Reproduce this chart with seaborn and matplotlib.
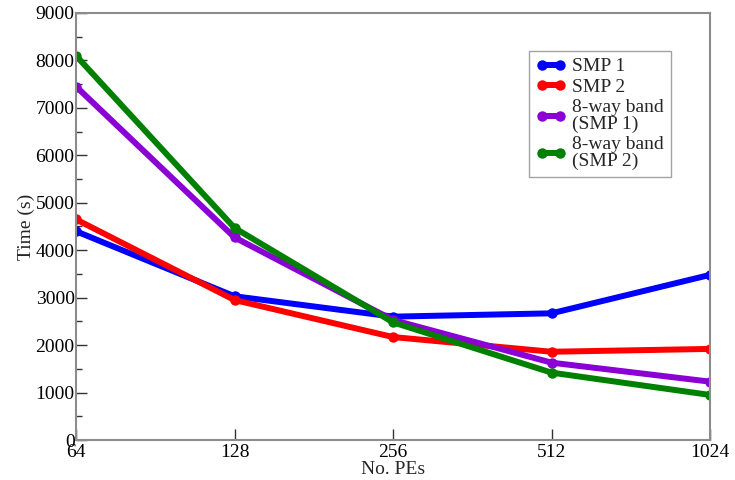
import pandas as pd
import seaborn as sns
import matplotlib.pyplot as plt
from matplotlib.ticker import FixedLocator, MultipleLocator

# values
pes = [64, 128, 256, 512, 1024]
smp1 = [4400, 3030, 2600, 2670, 3480]
smp2 = [4650, 2950, 2170, 1860, 1920]
band_smp1 = [7450, 4270, 2530, 1630, 1230]
band_smp2 = [8100, 4470, 2480, 1420, 950]

series = ["SMP 1", "SMP 2", "8-way band\n(SMP 1)", "8-way band\n(SMP 2)"]
colors = ["#0000ff", "#ff0000", "#8b00d4", "#008000"]

df = pd.DataFrame({
    "PEs": pes * 4,
    "Time": smp1 + smp2 + band_smp1 + band_smp2,
    "Series": [s for s in series for _ in pes],
})

sns.set_style("ticks")
plt.rcParams["font.family"] = ["Liberation Serif", "DejaVu Serif"]

fig = plt.figure(figsize=(7.35, 4.8), dpi=100)
ax = fig.add_axes([0.1034, 0.0833, 0.8626, 0.8897])

sns.lineplot(data=df, x="PEs", y="Time", hue="Series", hue_order=series,
             palette=colors, marker="o", markersize=7.5, markeredgewidth=0,
             linewidth=4.3, ax=ax)

ax.set_xscale("log", base=2)
ax.set_xlim(64, 1024)
ax.xaxis.set_major_locator(FixedLocator(pes))
ax.set_xticklabels([str(p) for p in pes])
ax.xaxis.set_minor_locator(FixedLocator([]))
ax.set_ylim(0, 9000)
ax.yaxis.set_major_locator(MultipleLocator(1000))
ax.yaxis.set_minor_locator(MultipleLocator(500))

ax.tick_params(which="both", direction="in", colors="#333333", labelcolor="black",
               labelsize=14, top=False, right=False)
ax.tick_params(which="major", length=8, width=1)
ax.tick_params(which="minor", length=4, width=1)
ax.tick_params(axis="x", pad=3)
ax.tick_params(axis="y", pad=1)
for sp in ax.spines.values():
    sp.set_color("#8c8c8c")
    sp.set_linewidth(1.5)

ax.set_xlabel("No. PEs", fontsize=14, labelpad=0)
ax.set_ylabel("Time (s)", fontsize=14, labelpad=0)

leg = ax.legend(loc="upper right", bbox_to_anchor=(0.938, 0.911), numpoints=2,
                fontsize=14, frameon=True, fancybox=False, handlelength=1.5,
                handletextpad=0.35, borderpad=0.35, labelspacing=0.15,
                borderaxespad=0)
for t in leg.get_texts():
    t.set_linespacing(1.0)
leg.get_frame().set_edgecolor("#8c8c8c")
leg.get_frame().set_linewidth(1.0)

fig.savefig("out.png", dpi=100)
